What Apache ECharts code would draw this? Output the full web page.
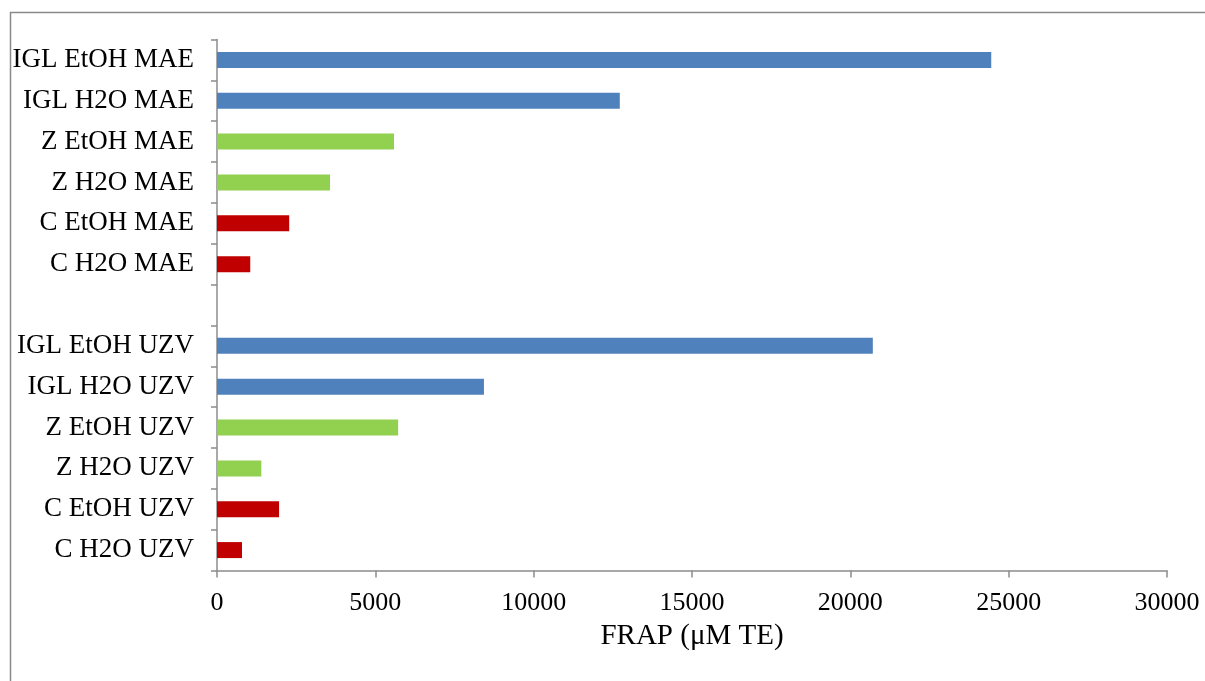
<!DOCTYPE html>
<html>
<head>
<meta charset="utf-8">
<script src="https://cdn.jsdelivr.net/npm/echarts@6/dist/echarts.min.js"></script>
<style>
html,body{margin:0;padding:0;background:#fff;}
#chart{width:1205px;height:681px;}
</style>
</head>
<body>
<div id="chart"></div>
<script>
// Categories listed top to bottom
var categories = ['IGL EtOH MAE','IGL H2O MAE','Z EtOH MAE','Z H2O MAE','C EtOH MAE','C H2O MAE','',
                  'IGL EtOH UZV','IGL H2O UZV','Z EtOH UZV','Z H2O UZV','C EtOH UZV','C H2O UZV'];
var frapValues = [24450, 12720, 5590, 3570, 2280, 1050, null,
                  20710, 8430, 5720, 1400, 1960, 790];
var groups = ['IGL','IGL','Z','Z','C','C','',
              'IGL','IGL','Z','Z','C','C'];
var xTicks = [0, 5000, 10000, 15000, 20000, 25000, 30000];

var groupColors = {IGL:'#4F81BD', Z:'#92D050', C:'#C00000'};
var font = "'Liberation Serif','Times New Roman',serif";

var chart = echarts.init(document.getElementById('chart'));
chart.setOption({
  animation:false,
  backgroundColor:'#fff',
  graphic:[{
    type:'rect', silent:true, z:-1,
    shape:{x:10.5, y:12.5, width:1400, height:1000},
    style:{fill:'none', stroke:'#8a8a8a', lineWidth:1.5}
  }],
  grid:{left:217, right:38, top:39.5, bottom:110.5, containLabel:false},
  xAxis:{
    type:'value', min:xTicks[0], max:xTicks[xTicks.length-1], interval:5000,
    axisLine:{show:true, lineStyle:{color:'#8c8c8c', width:1.5}},
    axisTick:{show:true, length:7, lineStyle:{color:'#8c8c8c', width:1.5}},
    splitLine:{show:false},
    axisLabel:{color:'#000', fontFamily:font, fontSize:26, margin:20,
               formatter:function(v){ return String(v); }},
    name:'FRAP (\u03bcM TE)', nameLocation:'middle', nameGap:49,
    nameTextStyle:{color:'#000', fontFamily:font, fontSize:29}
  },
  yAxis:{
    type:'category', data:categories, inverse:true,
    axisLine:{show:true, lineStyle:{color:'#8c8c8c', width:1.5}},
    axisTick:{show:true, length:6, alignWithLabel:false, lineStyle:{color:'#8c8c8c', width:1.5}},
    axisLabel:{color:'#000', fontFamily:font, fontSize:27, margin:23, interval:0},
    splitLine:{show:false}
  },
  series:[{
    type:'bar',
    data:frapValues.map(function(v,i){
      return {value:v, itemStyle:{color:groupColors[groups[i]] || '#000'}};
    }),
    barWidth:16
  }]
});
</script>
</body>
</html>
